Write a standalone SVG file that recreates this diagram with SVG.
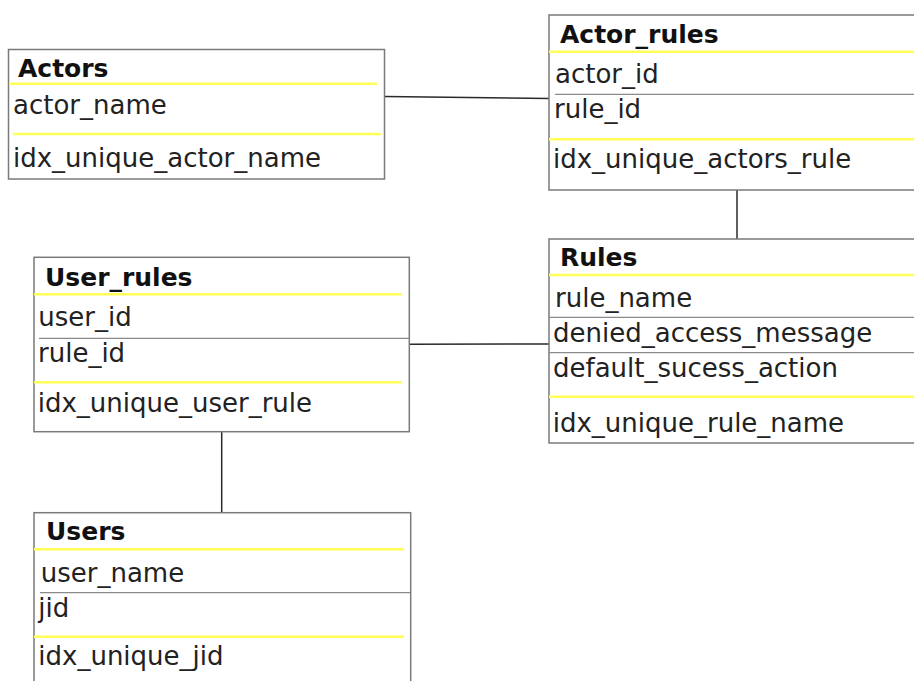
<svg xmlns="http://www.w3.org/2000/svg" width="914" height="681" viewBox="0 0 914 681">
  <style>
    .box { fill: #ffffff; stroke: #7a7a7a; stroke-width: 1.5; }
    .key { stroke: #ffff55; stroke-width: 2.5; }
    .sep { stroke: #8a8a8a; stroke-width: 1.2; }
    .title { font-family: "DejaVu Sans", Verdana, sans-serif; font-weight: bold; font-size: 25px; fill: #111111; }
    .field { font-family: "DejaVu Sans", Verdana, sans-serif; font-size: 26px; fill: #222222; }
    .link { stroke: #2a2a2a; stroke-width: 1.5; fill: none; }
  </style>
  <rect width="914" height="681" fill="#ffffff"/>

  <g id="connectors">
    <line class="link" x1="384.5" y1="96.5" x2="549" y2="98.5"/>
    <line class="link" x1="737" y1="190" x2="737" y2="239"/>
    <line class="link" x1="409.5" y1="344.3" x2="549" y2="344"/>
    <line class="link" x1="221.7" y1="431.7" x2="221.7" y2="512.7"/>
  </g>

  <g id="actors">
    <rect class="box" x="8.5" y="49.5" width="376" height="129.5"/>
    <text class="title" x="18" y="76.7">Actors</text>
    <line class="key" x1="9" y1="83.7" x2="377" y2="83.7"/>
    <text class="field" x="13" y="113.5">actor_name</text>
    <line class="key" x1="13" y1="134" x2="381" y2="134"/>
    <text class="field" x="13" y="166.7">idx_unique_actor_name</text>
  </g>

  <g id="actor_rules">
    <rect class="box" x="549" y="15" width="380" height="175"/>
    <text class="title" x="560" y="43">Actor_rules</text>
    <line class="key" x1="549" y1="51.7" x2="914" y2="51.7"/>
    <text class="field" x="555" y="83">actor_id</text>
    <line class="sep" x1="555" y1="94.3" x2="914" y2="94.3"/>
    <text class="field" x="554" y="118">rule_id</text>
    <line class="key" x1="549" y1="139.3" x2="914" y2="139.3"/>
    <text class="field" x="553" y="168">idx_unique_actors_rule</text>
  </g>

  <g id="rules">
    <rect class="box" x="549" y="239" width="380" height="204"/>
    <text class="title" x="560" y="266">Rules</text>
    <line class="key" x1="549" y1="275" x2="914" y2="275"/>
    <text class="field" x="555" y="306.7">rule_name</text>
    <line class="sep" x1="549" y1="317.3" x2="914" y2="317.3"/>
    <text class="field" x="553" y="341.7">denied_access_message</text>
    <line class="sep" x1="549" y1="352.7" x2="914" y2="352.7"/>
    <text class="field" x="553" y="376.7">default_sucess_action</text>
    <line class="key" x1="549" y1="396.7" x2="914" y2="396.7"/>
    <text class="field" x="552.7" y="431.7">idx_unique_rule_name</text>
  </g>

  <g id="user_rules">
    <rect class="box" x="34" y="257.3" width="375.3" height="174.4"/>
    <text class="title" x="45" y="286">User_rules</text>
    <line class="key" x1="34" y1="294.3" x2="402" y2="294.3"/>
    <text class="field" x="38.3" y="326">user_id</text>
    <line class="sep" x1="39" y1="338.3" x2="409" y2="338.3"/>
    <text class="field" x="38" y="361.7">rule_id</text>
    <line class="key" x1="34" y1="382.3" x2="402" y2="382.3"/>
    <text class="field" x="37.7" y="411.7">idx_unique_user_rule</text>
  </g>

  <g id="users">
    <rect class="box" x="34" y="512.7" width="376.7" height="200"/>
    <text class="title" x="46" y="540">Users</text>
    <line class="key" x1="34" y1="549.3" x2="404" y2="549.3"/>
    <text class="field" x="40.7" y="581.7">user_name</text>
    <line class="sep" x1="40" y1="592.7" x2="410" y2="592.7"/>
    <text class="field" x="38.3" y="616.7">jid</text>
    <line class="key" x1="34" y1="636.7" x2="404" y2="636.7"/>
    <text class="field" x="38.3" y="665">idx_unique_jid</text>
  </g>
</svg>
